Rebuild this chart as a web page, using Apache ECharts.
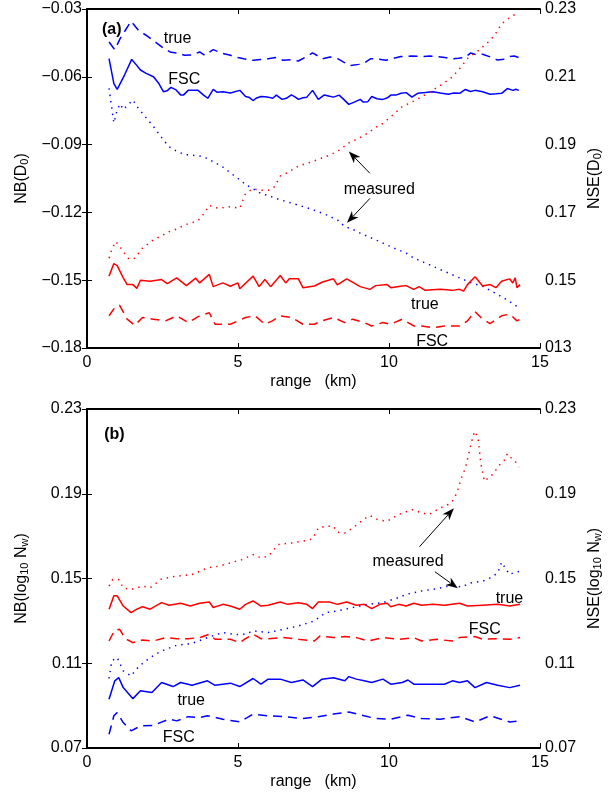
<!DOCTYPE html>
<html><head><meta charset="utf-8">
<script src="https://cdn.jsdelivr.net/npm/echarts@6/dist/echarts.min.js"></script>
<style>html,body{margin:0;padding:0;background:#fff}#c{width:611px;height:797px}</style>
</head><body><div id="c"></div>
<script>
// ---------- data (range km, value) ----------
const xTicks = [0, 5, 10, 15];
// Panel (a): NB(D0) on left axis (blue), NSE(D0) on right axis (red)
const aTrueNB = [[0.73,-0.0446],[0.92,-0.048],[1.1,-0.043],[1.46,-0.0354],[1.71,-0.0395],[2.0,-0.042],[2.3,-0.045],[2.55,-0.0475],[2.75,-0.049],[3.0,-0.0495],[3.23,-0.0505],[3.5,-0.0503],[3.73,-0.049],[3.9,-0.0505],[4.18,-0.048],[4.45,-0.0495],[4.75,-0.0505],[5.0,-0.0515],[5.19,-0.052],[5.5,-0.0527],[5.75,-0.0523],[6.0,-0.052],[6.25,-0.0515],[6.5,-0.0527],[6.75,-0.0525],[7.0,-0.053],[7.25,-0.0512],[7.47,-0.0494],[7.65,-0.0508],[7.8,-0.052],[8.05,-0.0512],[8.3,-0.052],[8.5,-0.0535],[8.73,-0.055],[9.0,-0.0545],[9.2,-0.0537],[9.4,-0.052],[9.65,-0.0522],[9.9,-0.0527],[10.15,-0.0518],[10.4,-0.051],[10.75,-0.0508],[11.1,-0.051],[11.35,-0.0508],[11.6,-0.051],[11.85,-0.0515],[12.1,-0.052],[12.3,-0.0518],[12.5,-0.0515],[12.7,-0.0495],[12.9,-0.0502],[13.1,-0.05],[13.35,-0.0512],[13.6,-0.0526],[13.8,-0.0522],[14.0,-0.051],[14.15,-0.0508],[14.3,-0.0515]];
const aFscNB = [[0.73,-0.052],[0.89,-0.063],[1.0,-0.0656],[1.25,-0.059],[1.48,-0.0523],[1.62,-0.0545],[1.77,-0.057],[1.96,-0.0585],[2.2,-0.06],[2.38,-0.063],[2.53,-0.0666],[2.65,-0.0662],[2.78,-0.0647],[2.95,-0.0658],[3.1,-0.068],[3.2,-0.068],[3.35,-0.066],[3.5,-0.066],[3.67,-0.0659],[3.85,-0.068],[4.0,-0.0695],[4.18,-0.0656],[4.3,-0.0668],[4.5,-0.0666],[4.75,-0.0672],[5.06,-0.066],[5.25,-0.0687],[5.38,-0.0692],[5.5,-0.0705],[5.6,-0.0695],[5.76,-0.0687],[5.9,-0.0688],[6.0,-0.069],[6.15,-0.0695],[6.27,-0.0681],[6.46,-0.07],[6.6,-0.0695],[6.77,-0.068],[6.9,-0.069],[7.0,-0.07],[7.15,-0.0693],[7.28,-0.069],[7.47,-0.066],[7.66,-0.07],[7.85,-0.0681],[8.0,-0.0685],[8.16,-0.069],[8.35,-0.0681],[8.5,-0.07],[8.67,-0.0722],[8.85,-0.0712],[9.05,-0.07],[9.15,-0.0712],[9.3,-0.071],[9.43,-0.0687],[9.6,-0.0697],[9.8,-0.07],[9.95,-0.0693],[10.06,-0.0681],[10.25,-0.068],[10.4,-0.0673],[10.57,-0.067],[10.76,-0.069],[10.95,-0.0673],[11.2,-0.067],[11.46,-0.0666],[11.7,-0.0672],[11.96,-0.0677],[12.15,-0.0672],[12.34,-0.0673],[12.53,-0.0656],[12.7,-0.0665],[12.85,-0.066],[13.1,-0.0666],[13.35,-0.0677],[13.55,-0.0675],[13.73,-0.0673],[13.92,-0.0652],[14.11,-0.066],[14.2,-0.0655],[14.3,-0.066]];
const aMeasNB = [[0.73,-0.0651],[0.8,-0.072],[0.89,-0.0804],[1.0,-0.0746],[1.1,-0.072],[1.2,-0.0745],[1.35,-0.0725],[1.52,-0.0703],[1.7,-0.074],[1.95,-0.078],[2.2,-0.082],[2.45,-0.0865],[2.7,-0.0908],[2.95,-0.0928],[3.23,-0.0944],[3.5,-0.0947],[3.73,-0.095],[4.0,-0.0962],[4.24,-0.098],[4.5,-0.1],[4.75,-0.1025],[5.0,-0.105],[5.25,-0.1076],[5.38,-0.1087],[5.5,-0.1095],[5.76,-0.1117],[6.0,-0.1125],[6.27,-0.1139],[6.6,-0.1152],[7.0,-0.1168],[7.3,-0.118],[7.66,-0.1197],[8.0,-0.1215],[8.3,-0.1234],[8.54,-0.1263],[8.8,-0.1275],[9.05,-0.1292],[9.4,-0.1312],[9.8,-0.1336],[10.2,-0.136],[10.57,-0.138],[10.8,-0.14],[11.08,-0.1417],[11.4,-0.1435],[11.7,-0.1453],[12.0,-0.147],[12.34,-0.149],[12.7,-0.151],[13.1,-0.1527],[13.35,-0.1545],[13.6,-0.1563],[13.95,-0.159],[14.3,-0.1622]];
const aMeasNSE = [[0.73,0.1565],[0.82,0.159],[0.95,0.1614],[1.08,0.16],[1.2,0.1585],[1.39,0.1562],[1.58,0.1565],[1.84,0.1595],[2.2,0.1619],[2.45,0.163],[2.72,0.1643],[3.0,0.1652],[3.23,0.1663],[3.5,0.167],[3.73,0.168],[3.9,0.17],[4.05,0.1721],[4.2,0.1715],[4.37,0.1712],[4.75,0.1717],[5.06,0.1712],[5.25,0.1756],[5.5,0.177],[5.76,0.1765],[6.0,0.1765],[6.2,0.1775],[6.4,0.1807],[6.7,0.182],[7.0,0.1837],[7.3,0.1845],[7.66,0.1856],[8.0,0.1868],[8.3,0.188],[8.67,0.1905],[9.0,0.1918],[9.3,0.1934],[9.55,0.195],[9.8,0.1963],[10.1,0.1985],[10.44,0.2012],[10.75,0.2025],[11.08,0.2041],[11.46,0.2061],[11.8,0.208],[12.1,0.21],[12.35,0.2125],[12.6,0.2154],[12.97,0.2178],[13.35,0.2207],[13.55,0.223],[13.73,0.2256],[13.9,0.2268],[14.1,0.228],[14.3,0.229]];
const aTrueNSE = [[0.73,0.1512],[0.89,0.1549],[1.0,0.1543],[1.2,0.1507],[1.33,0.1487],[1.52,0.1487],[1.65,0.1476],[1.77,0.15],[2.09,0.1497],[2.47,0.1502],[2.66,0.149],[2.97,0.1507],[3.29,0.1484],[3.6,0.1506],[3.73,0.1492],[4.05,0.1517],[4.18,0.1481],[4.5,0.1492],[4.75,0.1482],[5.0,0.1492],[5.06,0.1475],[5.5,0.1512],[5.7,0.1481],[5.89,0.1502],[6.08,0.1481],[6.4,0.1514],[6.58,0.1492],[6.7,0.1504],[7.0,0.1504],[7.15,0.1478],[7.53,0.1483],[7.78,0.1494],[8.16,0.1504],[8.29,0.1486],[8.6,0.1504],[9.05,0.1481],[9.37,0.1473],[9.56,0.1484],[9.94,0.1487],[10.06,0.1478],[10.44,0.1483],[10.57,0.1484],[10.82,0.1473],[11.0,0.1481],[11.2,0.147],[11.7,0.1473],[12.1,0.147],[12.34,0.1473],[12.47,0.1468],[12.6,0.1487],[12.85,0.151],[13.1,0.1483],[13.35,0.1487],[13.54,0.1478],[13.73,0.1497],[13.99,0.1504],[14.1,0.1492],[14.18,0.1507],[14.24,0.1478],[14.34,0.1487]];
const aFscNSE = [[0.73,0.1395],[0.92,0.1419],[1.08,0.1426],[1.33,0.1385],[1.58,0.1367],[1.84,0.139],[2.2,0.1385],[2.6,0.138],[2.97,0.1395],[3.35,0.1375],[3.73,0.1395],[4.05,0.1404],[4.24,0.137],[4.75,0.137],[5.0,0.138],[5.25,0.139],[5.57,0.1395],[5.89,0.137],[6.14,0.138],[6.4,0.1395],[6.77,0.139],[7.15,0.137],[7.53,0.137],[7.78,0.138],[8.16,0.139],[8.54,0.1375],[8.8,0.1385],[9.18,0.1375],[9.43,0.1365],[9.8,0.1375],[10.06,0.137],[10.44,0.1385],[10.82,0.1365],[11.08,0.1365],[11.46,0.136],[11.84,0.1365],[12.34,0.1365],[12.6,0.138],[12.85,0.1407],[13.1,0.1385],[13.35,0.1372],[13.73,0.1395],[14.0,0.14],[14.24,0.138],[14.34,0.1385]];
// Panel (b): NB(log10 Nw) (blue) and NSE(log10 Nw) (red)
const bMeasNSE = [[0.73,0.1464],[0.85,0.1495],[1.05,0.1495],[1.2,0.1456],[1.46,0.1448],[1.84,0.1464],[2.09,0.1456],[2.47,0.1498],[2.97,0.1511],[3.48,0.1519],[3.99,0.155],[4.37,0.1558],[4.75,0.1574],[5.13,0.1589],[5.5,0.1613],[5.76,0.1597],[6.0,0.1605],[6.33,0.166],[6.77,0.1668],[7.15,0.1676],[7.47,0.1687],[7.66,0.1739],[7.91,0.1747],[8.16,0.1747],[8.29,0.1718],[8.54,0.1715],[8.8,0.1739],[9.18,0.1781],[9.37,0.1797],[9.62,0.1778],[9.94,0.177],[10.32,0.1802],[10.76,0.1825],[11.08,0.181],[11.33,0.1802],[11.7,0.1833],[11.96,0.1849],[12.15,0.1872],[12.28,0.1919],[12.4,0.1975],[12.53,0.2022],[12.66,0.21],[12.78,0.2171],[12.85,0.2195],[12.95,0.2163],[13.04,0.2045],[13.16,0.1959],[13.42,0.199],[13.67,0.2037],[13.84,0.2061],[13.92,0.2089],[14.05,0.2069],[14.18,0.2053],[14.3,0.2026]];
const bTrueNSE = [[0.73,0.1355],[0.89,0.1418],[1.0,0.1418],[1.2,0.137],[1.46,0.1339],[1.65,0.1355],[1.84,0.1367],[2.09,0.1355],[2.47,0.1386],[2.72,0.1374],[3.1,0.1383],[3.42,0.137],[3.73,0.1383],[4.05,0.1389],[4.18,0.1363],[4.5,0.1378],[4.75,0.137],[5.06,0.1355],[5.25,0.1378],[5.5,0.1394],[5.76,0.137],[6.0,0.1374],[6.4,0.1389],[6.65,0.1378],[7.0,0.1386],[7.28,0.1378],[7.47,0.1358],[7.66,0.1389],[8.03,0.1389],[8.3,0.1378],[8.6,0.1389],[8.92,0.1374],[9.18,0.1378],[9.43,0.1358],[9.7,0.1378],[9.94,0.1383],[10.06,0.1367],[10.32,0.1378],[10.57,0.137],[10.82,0.1383],[11.08,0.1374],[11.46,0.1378],[11.84,0.1374],[12.34,0.1383],[12.6,0.137],[13.1,0.1374],[13.6,0.1378],[14.0,0.137],[14.34,0.1378]];
const bFscNSE = [[0.73,0.1205],[0.92,0.1257],[1.08,0.126],[1.27,0.1216],[1.52,0.1197],[1.84,0.121],[2.2,0.1205],[2.6,0.1221],[2.97,0.1216],[3.35,0.1216],[3.73,0.1221],[4.05,0.1237],[4.24,0.1213],[4.75,0.1213],[5.06,0.1197],[5.25,0.1216],[5.5,0.1237],[5.76,0.1216],[6.0,0.1216],[6.5,0.1221],[7.0,0.1213],[7.53,0.1205],[7.72,0.1229],[8.16,0.1221],[8.54,0.1226],[8.92,0.1221],[9.3,0.1205],[9.8,0.1221],[10.32,0.1213],[10.82,0.1221],[11.08,0.1205],[11.58,0.1213],[12.09,0.1205],[12.34,0.1221],[12.85,0.1226],[13.1,0.1213],[13.6,0.1216],[14.0,0.1213],[14.34,0.1221]];
const bMeasNB = [[0.73,0.1028],[0.82,0.1111],[1.0,0.1127],[1.2,0.1064],[1.46,0.104],[1.71,0.1084],[2.09,0.1127],[2.47,0.1158],[2.97,0.1185],[3.48,0.1194],[3.99,0.1221],[4.5,0.1245],[4.9,0.1235],[5.25,0.1237],[5.5,0.1253],[6.0,0.1245],[6.5,0.126],[7.0,0.1276],[7.53,0.13],[7.91,0.1339],[8.3,0.1347],[8.8,0.1363],[9.3,0.1378],[9.8,0.1386],[10.32,0.141],[10.57,0.1425],[11.08,0.1441],[11.58,0.1452],[12.09,0.1468],[12.4,0.146],[12.7,0.1479],[13.1,0.1487],[13.35,0.1503],[13.6,0.1526],[13.73,0.1577],[13.85,0.155],[13.99,0.1519],[14.18,0.153],[14.34,0.1534]];
const bTrueNB = [[0.73,0.093],[0.92,0.1017],[1.05,0.1032],[1.2,0.0985],[1.52,0.0933],[1.77,0.097],[2.15,0.0962],[2.47,0.1009],[2.85,0.099],[3.1,0.1009],[3.48,0.0996],[3.99,0.1017],[4.24,0.0996],[4.75,0.1006],[5.06,0.099],[5.5,0.1028],[5.76,0.1001],[6.0,0.1025],[6.4,0.1025],[6.77,0.1009],[7.15,0.1021],[7.47,0.099],[7.78,0.1025],[8.16,0.1032],[8.54,0.1017],[8.67,0.1037],[8.92,0.1025],[9.18,0.1017],[9.43,0.1009],[9.8,0.1025],[10.06,0.1001],[10.44,0.1009],[10.63,0.1021],[10.82,0.1001],[11.46,0.1001],[11.84,0.1001],[12.1,0.1017],[12.34,0.1009],[12.6,0.1017],[12.85,0.0985],[13.23,0.1009],[13.6,0.0996],[14.0,0.0985],[14.34,0.0996]];
const bFscNB = [[0.73,0.0765],[0.89,0.0852],[1.0,0.0867],[1.2,0.082],[1.46,0.0781],[1.77,0.0804],[2.2,0.0807],[2.72,0.0836],[2.97,0.0828],[3.35,0.0848],[3.73,0.0844],[3.99,0.0852],[4.5,0.0836],[5.06,0.0823],[5.5,0.086],[6.0,0.0852],[6.5,0.0848],[7.15,0.0839],[7.66,0.0848],[8.16,0.086],[8.67,0.087],[9.18,0.0852],[9.56,0.0839],[10.06,0.0836],[10.63,0.0855],[11.08,0.0839],[11.7,0.0836],[12.34,0.0848],[12.85,0.0823],[13.35,0.0852],[14.0,0.0823],[14.34,0.0828]];

// ---------- annotations (data coordinates) ----------
const aLabels = [['(a)',0.82,-0.0393,true],['true',3.0,-0.043],['FSC',3.22,-0.0614],['measured',9.68,-0.1101],['true',11.19,-0.161],['FSC',11.43,-0.1772]];
const aArrows = [[9.37,-0.1027,8.67,-0.0931],[9.37,-0.1138,8.61,-0.1246]];
const bLabels = [['(b)',0.91,0.2177,true],['measured',10.63,0.1579],['true',13.99,0.1407],['FSC',13.17,0.1257],['true',3.45,0.0923],['FSC',3.04,0.075]];
const bArrows = [[11.01,0.165,12.15,0.1831],[11.52,0.1532,12.28,0.1454]];

const FONT = '"Liberation Sans", Arial, Helvetica, sans-serif';
const BLUE = '#0000ff', RED = '#ff0000';
const DASH = [9, 6], DOT = [1.4, 5];

const chart = echarts.init(document.getElementById('c'), null, {renderer: 'canvas'});
const grids = [
  {left: 87, right: 63, top: 9, height: 339},
  {left: 87, right: 63, top: 409, height: 339}
];
function fmt(v) { return (v < -1e-9 ? '\u2212' : '') + Math.abs(v).toFixed(2); }
const axLine = {show: true, lineStyle: {color: '#000', width: 2}};
const tick = {show: true, inside: true, length: 5, lineStyle: {color: '#000', width: 1}};
const lbl = {color: '#000', fontFamily: FONT, fontSize: 16};
function xAx(g, pos) {
  const bottom = pos === 'bottom';
  return {type: 'value', gridIndex: g, position: pos, min: 0, max: 15, interval: 5,
    axisLine: axLine, axisTick: tick, splitLine: {show: false},
    axisLabel: bottom ? Object.assign({margin: 7}, lbl) : {show: false},
    name: bottom ? 'range   (km)' : '', nameLocation: 'middle', nameGap: 26,
    nameTextStyle: {color: '#000', fontFamily: FONT, fontSize: 16}};
}
const rich = {n: {fontFamily: FONT, fontSize: 16, color: '#000', lineHeight: 20, verticalAlign: 'bottom'},
              s: {fontFamily: FONT, fontSize: 11, color: '#000', lineHeight: 13, verticalAlign: 'bottom'}};
function yAx(g, pos, min, max, interval, name, fmtFn, gap) {
  return {type: 'value', gridIndex: g, position: pos, min: min, max: max, interval: interval,
    axisLine: axLine, axisTick: tick, splitLine: {show: false},
    axisLabel: Object.assign({margin: 5, formatter: fmtFn}, lbl),
    name: name, nameLocation: 'middle', nameRotate: 90, nameGap: gap,
    nameTextStyle: {rich: rich}};
}
function ln(data, xi, yi, color, type, width) {
  return {type: 'line', data: data, xAxisIndex: xi, yAxisIndex: yi, symbol: 'none', silent: true,
    lineStyle: {color: color, width: width, type: type, cap: 'butt'}, animation: false};
}
chart.setOption({
  animation: false,
  grid: grids,
  xAxis: [xAx(0, 'bottom'), xAx(0, 'top'), xAx(1, 'bottom'), xAx(1, 'top')],
  yAxis: [
    yAx(0, 'left', -0.18, -0.03, 0.03, '{n|NB(D}{s|0}{n|)}', fmt, 57),
    yAx(0, 'right', 0.13, 0.23, 0.02, '{n|NSE(D}{s|0}{n|)}', v => Math.abs(v - 0.13) < 1e-6 ? '013' : v.toFixed(2), 41),
    yAx(1, 'left', 0.07, 0.23, 0.04, '{n|NB(log}{s|10}{n| N}{s|w}{n|)}', fmt, 57),
    yAx(1, 'right', 0.07, 0.23, 0.04, '{n|NSE(log}{s|10}{n| N}{s|w}{n|)}', fmt, 41)
  ],
  series: [
    ln(aTrueNB, 0, 0, BLUE, DASH, 1.5),
    ln(aFscNB, 0, 0, BLUE, 'solid', 1.5),
    ln(aMeasNB, 0, 0, BLUE, DOT, 1.5),
    ln(aMeasNSE, 0, 1, RED, DOT, 1.5),
    ln(aTrueNSE, 0, 1, RED, 'solid', 1.5),
    ln(aFscNSE, 0, 1, RED, DASH, 1.5),
    ln(bMeasNSE, 2, 2, RED, DOT, 1.5),
    ln(bTrueNSE, 2, 2, RED, 'solid', 1.5),
    ln(bFscNSE, 2, 2, RED, DASH, 1.5),
    ln(bMeasNB, 2, 2, BLUE, DOT, 1.5),
    ln(bTrueNB, 2, 2, BLUE, 'solid', 1.5),
    ln(bFscNB, 2, 2, BLUE, DASH, 1.5)
  ]
});

// ---------- annotations ----------
const gfx = [];
function addLabels(labels, xi, yi) {
  labels.forEach(l => {
    const p = chart.convertToPixel({xAxisIndex: xi, yAxisIndex: yi}, [l[1], l[2]]);
    gfx.push({type: 'text', x: p[0], y: p[1], z: 100, silent: true,
      style: {text: l[0], fill: '#000', font: (l[3] ? 'bold ' : '') + '16px ' + FONT, align: 'center', verticalAlign: 'middle'}});
  });
}
function addArrows(arrows, xi, yi) {
  arrows.forEach(a => {
    const t = chart.convertToPixel({xAxisIndex: xi, yAxisIndex: yi}, [a[0], a[1]]);
    const h = chart.convertToPixel({xAxisIndex: xi, yAxisIndex: yi}, [a[2], a[3]]);
    const dx = h[0] - t[0], dy = h[1] - t[1], L = Math.hypot(dx, dy);
    const ux = dx / L, uy = dy / L, hl = 12, hw = 4.5;
    const bx = h[0] - ux * hl, by = h[1] - uy * hl;
    gfx.push({type: 'line', z: 100, silent: true, shape: {x1: t[0], y1: t[1], x2: bx + ux * 3, y2: by + uy * 3},
      style: {stroke: '#000', lineWidth: 1}});
    gfx.push({type: 'polygon', z: 100, silent: true,
      shape: {points: [[h[0], h[1]], [bx - uy * hw, by + ux * hw], [bx + ux * 3.5, by + uy * 3.5], [bx + uy * hw, by - ux * hw]]},
      style: {fill: '#000'}});
  });
}
addLabels(aLabels, 0, 0); addArrows(aArrows, 0, 0);
addLabels(bLabels, 2, 2); addArrows(bArrows, 2, 2);
chart.setOption({graphic: gfx});
</script></body></html>
